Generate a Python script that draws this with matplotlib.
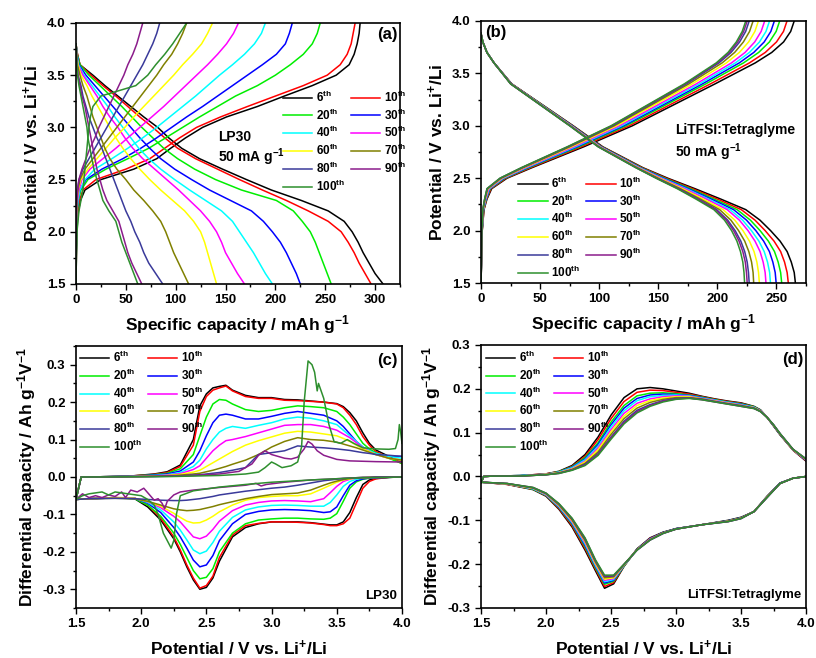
import matplotlib
matplotlib.use("Agg")
import matplotlib.pyplot as plt
from matplotlib.ticker import MultipleLocator, FormatStrFormatter

plt.rcParams['font.family'] = ['Liberation Sans', 'DejaVu Sans']
plt.rcParams['font.weight'] = 'bold'
plt.rcParams['axes.labelweight'] = 'bold'
plt.rcParams['mathtext.fontset'] = 'custom'
plt.rcParams['mathtext.rm'] = 'Liberation Sans:bold'
plt.rcParams['mathtext.bf'] = 'Liberation Sans:bold'
plt.rcParams['mathtext.it'] = 'Liberation Sans:bold'
plt.rcParams['mathtext.default'] = 'bf'
plt.rcParams['axes.unicode_minus'] = False

# ---------------- data ----------------
CYCLES = ['6', '10', '20', '30', '40', '50', '60', '70', '80', '90', '100']
COLORS = ['#000000', '#ff0000', '#00ee00', '#0000ff', '#00ffff', '#ff00ff',
          '#ffff00', '#808000', '#3a3a9a', '#8b1c8b', '#2e8f2e']

# Panel (a) LP30 - discharge: capacity (mAh/g) at potentials A_DIS_V
A_DIS_V = [3.8, 3.7, 3.6, 3.5, 3.4, 3.3, 3.2, 3.1, 3.0, 2.9, 2.8, 2.7, 2.6, 2.5,
           2.4, 2.3, 2.2, 2.1, 2.0, 1.9, 1.8, 1.7, 1.6, 1.5]
A_DIS_CAP = [
    [0, 1.5, 4, 17, 29, 42, 55, 68, 82, 93, 106, 124, 147, 171, 196, 226, 253, 269, 277, 283, 288, 294, 300, 308],
    [0, 1.5, 4, 15, 27, 40, 52, 64, 77, 89, 102, 120, 142, 164, 187, 211, 233, 253, 266, 273, 279, 284, 290, 296],
    [0, 1.2, 4, 13, 24, 35, 46, 56, 66, 77, 88, 102, 119, 140, 166, 201, 218, 227, 235, 240, 244, 248, 252, 256],
    [0, 1, 3, 10, 19, 28, 37, 46, 55, 64, 74, 85, 99, 116, 134, 155, 176, 188, 197, 205, 211, 216, 221, 225],
    [0, 1, 2.5, 8, 16, 24, 32, 39, 47, 55, 63, 73, 85, 99, 114, 130, 146, 157, 164, 171, 178, 184, 190, 197],
    [0, 0.8, 2, 7, 14, 21, 27, 34, 42, 49, 57, 67, 79, 91, 103, 114, 125, 134, 141, 146, 150, 156, 162, 169],
    [0, 0.7, 2, 5, 11, 16, 22, 28, 34, 40, 47, 55, 64, 74, 85, 97, 109, 118, 125, 129, 132, 135, 138, 141],
    [0, 0.6, 1.5, 4, 7, 11, 14, 17, 21, 25, 29, 34, 41, 50, 58, 68, 77, 85, 90, 94, 98, 103, 108, 113],
    [0, 0.5, 1, 2, 5, 7, 10, 13, 17, 21, 26, 30, 34, 38, 42, 46, 50, 55, 59, 64, 68, 73, 80, 87],
    [0, 0.5, 1, 2, 4, 6, 9, 11, 13, 15, 17, 19, 21, 24, 27, 31, 37, 43, 46, 49, 52, 56, 61, 66],
    [0, 0.5, 1, 1.5, 3, 5, 7, 9, 11, 12, 14, 16, 18, 21, 24, 27, 33, 40, 43, 46, 50, 54, 58, 62],
]
# Panel (a) LP30 - charge
A_CHG_V = [1.5, 1.8, 2.0, 2.1, 2.2, 2.3, 2.4, 2.5, 2.6, 2.7, 2.8, 2.9, 3.0, 3.1,
           3.2, 3.3, 3.4, 3.5, 3.6, 3.7, 3.8, 3.9, 4.0]
A_CHG_CAP = [
    [0, 0.5, 1, 1.5, 2.5, 4.5, 9, 25, 58, 81, 95, 110, 127, 151, 182, 209, 237, 261, 274, 279, 282, 284, 285],
    [0, 0.4, 0.8, 1.2, 2, 3.5, 7, 20, 50, 74, 89, 104, 121, 145, 172, 200, 228, 252, 265, 272, 276, 278, 280],
    [0, 0.3, 0.6, 0.9, 1.4, 2.5, 5, 12, 30, 52, 73, 90, 107, 124, 142, 160, 182, 200, 215, 228, 237, 242, 245],
    [0, 0.3, 0.5, 0.8, 1.1, 2, 4, 10, 26, 47, 65, 81, 96, 111, 127, 142, 157, 172, 187, 201, 210, 214, 217],
    [0, 0.3, 0.5, 0.7, 1, 2, 4, 9, 19, 36, 52, 67, 81, 94, 107, 120, 132, 144, 157, 169, 179, 186, 190],
    [0, 0.2, 0.4, 0.6, 0.9, 1.5, 3, 6, 14, 27, 40, 52, 64, 76, 88, 99, 110, 121, 132, 142, 151, 158, 163],
    [0, 0.2, 0.4, 0.5, 0.8, 1.2, 2, 5, 12, 21, 30, 39, 49, 58, 68, 78, 88, 98, 107, 117, 126, 132, 137],
    [0, 0.2, 0.3, 0.4, 0.6, 1, 2, 4, 9, 17, 25, 33, 41, 49, 57, 65, 73, 81, 88, 96, 102, 107, 111],
    [0, 0.2, 0.3, 0.4, 0.5, 0.8, 1.5, 3, 7, 13, 19, 25, 31, 37, 43, 49, 55, 61, 67, 72, 77, 81, 84],
    [0, 0.2, 0.3, 0.4, 0.5, 0.7, 1.5, 3, 6, 10, 14, 19, 23, 28, 33, 38, 43, 48, 52, 57, 61, 64, 67],
    [0, 0.5, 1, 2, 3, 5, 7, 8, 9, 10, 11, 12, 13, 14.5, 17, 25, 60, 72, 80, 89, 97, 104, 111],
]

# Panel (b) LiTFSI:Tetraglyme - discharge
B_DIS_V = [3.88, 3.8, 3.7, 3.6, 3.4, 3.2, 3.0, 2.8, 2.6, 2.5, 2.4, 2.3, 2.2, 2.1,
           2.0, 1.9, 1.8, 1.7, 1.6, 1.5]
B_DIS_CAP = [
    [0, 1.5, 5, 11, 26, 52, 78, 103, 137, 158, 181, 203, 224, 236, 245, 253, 259, 262.5, 265, 266],
    [0, 1.5, 5, 11, 25.9, 51.7, 77.6, 102.4, 136.2, 156.6, 178.9, 200.1, 220.2, 231.8, 240.4, 247.9, 253.5, 256.8, 259.0, 260.0],
    [0, 1.5, 5, 11, 25.7, 51.5, 77.2, 101.9, 135.4, 155.3, 177.0, 197.3, 216.7, 227.9, 236.1, 243.1, 248.3, 251.4, 253.5, 254.4],
    [0, 1.5, 5, 11, 25.6, 51.2, 76.9, 101.5, 134.7, 154.2, 175.3, 195.0, 213.7, 224.6, 232.5, 239.1, 244.0, 246.9, 248.9, 249.7],
    [0, 1.5, 5, 11, 25.5, 51.0, 76.5, 101.0, 134.1, 153.1, 173.7, 192.7, 210.8, 221.3, 228.8, 235.1, 239.6, 242.4, 244.2, 244.9],
    [0, 1.5, 5, 11, 25.4, 50.8, 76.3, 100.7, 133.5, 152.2, 172.3, 190.8, 208.3, 218.6, 225.9, 231.8, 236.1, 238.7, 240.4, 241.1],
    [0, 1.5, 5, 11, 25.3, 50.6, 75.9, 100.2, 132.7, 150.9, 170.4, 188.1, 204.8, 214.7, 221.6, 227.1, 231.0, 233.4, 234.8, 235.5],
    [0, 1.5, 5, 11, 25.2, 50.4, 75.5, 99.7, 132.1, 149.8, 168.7, 185.8, 201.9, 211.4, 217.9, 223.1, 226.6, 228.9, 230.2, 230.7],
    [0, 1.5, 5, 11, 25.1, 50.2, 75.3, 99.4, 131.5, 148.9, 167.4, 183.9, 199.4, 208.7, 215.0, 219.8, 223.1, 225.2, 226.3, 226.9],
    [0, 1.5, 5, 11, 25.1, 50.1, 75.2, 99.2, 131.3, 148.5, 166.8, 183.1, 198.4, 207.5, 213.7, 218.3, 221.5, 223.6, 224.6, 225.2],
    [0, 1.5, 5, 11, 25, 50, 75, 99, 131, 148, 166, 182, 197, 206, 212, 216.5, 219.5, 221.5, 222.5, 223],
]
# Panel (b) - charge
B_CHG_V = [1.5, 2.0, 2.2, 2.3, 2.4, 2.5, 2.6, 2.8, 3.0, 3.2, 3.4, 3.6, 3.7, 3.8, 3.9, 4.0]
B_CHG_CAP = [
    [0, 1, 2.5, 5, 9, 22, 43, 87, 128, 163, 198, 232, 246, 256, 262, 265],
    [0, 1.0, 2.4, 4.7, 8.4, 21.1, 41.7, 84.9, 125.3, 159.7, 194.1, 227.1, 240.5, 250.0, 255.9, 258.9],
    [0, 0.9, 2.2, 4.4, 7.8, 20.2, 40.3, 82.8, 122.6, 156.4, 190.2, 222.1, 234.9, 244.0, 249.7, 252.7],
    [0, 0.9, 2.1, 4.2, 7.4, 19.5, 39.3, 81.3, 120.6, 154.0, 187.3, 218.5, 230.8, 239.6, 245.2, 248.2],
    [0, 0.8, 2.0, 4.0, 7.0, 18.9, 38.4, 79.9, 118.8, 151.8, 184.7, 215.2, 227.1, 235.6, 241.1, 244.1],
    [0, 0.8, 1.9, 3.8, 6.6, 18.3, 37.5, 78.5, 117.0, 149.6, 182.1, 211.9, 223.4, 231.6, 237.0, 240.0],
    [0, 0.8, 1.8, 3.5, 6.0, 17.6, 36.3, 76.6, 114.7, 146.7, 178.8, 207.6, 218.6, 226.4, 231.7, 234.7],
    [0, 0.7, 1.7, 3.3, 5.6, 16.9, 35.4, 75.1, 112.7, 144.3, 175.9, 204.0, 214.6, 222.0, 227.2, 230.2],
    [0, 0.7, 1.6, 3.1, 5.3, 16.4, 34.6, 74.0, 111.3, 142.5, 173.8, 201.3, 211.6, 218.8, 223.9, 226.9],
    [0, 0.7, 1.5, 3.1, 5.1, 16.2, 34.3, 73.4, 110.5, 141.7, 172.8, 200.0, 210.1, 217.2, 222.2, 225.2],
    [0, 0.7, 1.5, 3.0, 5.0, 16.0, 34.0, 73.0, 110.0, 141.0, 172.0, 199.0, 209.0, 216.0, 221.0, 224.0],
]

# Panel (c) LP30 dQ/dV - charge branch (cycles 6..80 on a shared grid)
C_UP_V = [1.5, 1.54, 1.6, 1.9, 2.1, 2.2, 2.3, 2.4, 2.45, 2.5, 2.55, 2.6, 2.65, 2.7, 2.8,
          2.9, 3.0, 3.1, 3.2, 3.3, 3.4, 3.5, 3.55, 3.6, 3.65, 3.7, 3.75, 3.8, 3.9, 4.0]
C_UP = [
    [-0.06, 0.0, 0.0, 0.002, 0.008, 0.014, 0.032, 0.1, 0.19, 0.222, 0.238, 0.242, 0.245, 0.232, 0.218, 0.212, 0.212, 0.207, 0.206, 0.203, 0.2, 0.196, 0.188, 0.172, 0.15, 0.118, 0.09, 0.072, 0.055, 0.038],
    [-0.06, 0.0, 0.0, 0.002, 0.007, 0.012, 0.028, 0.085, 0.175, 0.215, 0.232, 0.238, 0.243, 0.23, 0.215, 0.21, 0.21, 0.205, 0.204, 0.202, 0.2, 0.195, 0.185, 0.165, 0.14, 0.108, 0.085, 0.068, 0.052, 0.036],
    [-0.06, 0.0, 0.0, 0.002, 0.006, 0.01, 0.022, 0.06, 0.11, 0.16, 0.195, 0.207, 0.205, 0.195, 0.18, 0.175, 0.178, 0.185, 0.19, 0.188, 0.185, 0.175, 0.16, 0.14, 0.115, 0.09, 0.075, 0.065, 0.05, 0.036],
    [-0.06, 0.0, 0.0, 0.002, 0.005, 0.008, 0.016, 0.04, 0.07, 0.11, 0.145, 0.165, 0.168, 0.165, 0.155, 0.155, 0.162, 0.17, 0.175, 0.17, 0.165, 0.15, 0.135, 0.115, 0.095, 0.08, 0.07, 0.062, 0.055, 0.055],
    [-0.06, 0.0, 0.0, 0.001, 0.004, 0.006, 0.012, 0.028, 0.045, 0.075, 0.1, 0.12, 0.13, 0.135, 0.13, 0.138, 0.145, 0.155, 0.16, 0.157, 0.15, 0.14, 0.125, 0.11, 0.095, 0.08, 0.07, 0.063, 0.055, 0.05],
    [-0.06, 0.0, 0.0, 0.001, 0.003, 0.005, 0.009, 0.02, 0.03, 0.05, 0.07, 0.085, 0.097, 0.1, 0.108, 0.118, 0.128, 0.138, 0.14, 0.14, 0.135, 0.125, 0.115, 0.105, 0.092, 0.078, 0.068, 0.06, 0.05, 0.045],
    [-0.06, 0.0, 0.0, 0.001, 0.002, 0.004, 0.007, 0.013, 0.018, 0.028, 0.038, 0.048, 0.058, 0.068, 0.085, 0.097, 0.107, 0.117, 0.122, 0.12, 0.115, 0.11, 0.103, 0.095, 0.085, 0.075, 0.068, 0.06, 0.05, 0.045],
    [-0.06, 0.0, 0.0, 0.001, 0.002, 0.003, 0.005, 0.008, 0.01, 0.014, 0.018, 0.023, 0.028, 0.034, 0.045, 0.06, 0.08, 0.095, 0.105, 0.1, 0.098, 0.093, 0.088, 0.083, 0.078, 0.072, 0.066, 0.06, 0.05, 0.045],
    [-0.06, 0.0, 0.0, 0.001, 0.001, 0.002, 0.003, 0.005, 0.006, 0.008, 0.01, 0.012, 0.015, 0.018, 0.025, 0.06, 0.065, 0.07, 0.083, 0.08, 0.078, 0.075, 0.073, 0.071, 0.068, 0.065, 0.063, 0.06, 0.058, 0.055],
]
C_UP_90_V = [1.5, 1.54, 1.6, 2.0, 2.4, 2.6, 2.75, 2.85, 2.9, 2.95, 3.0, 3.05, 3.1, 3.15, 3.2,
             3.25, 3.28, 3.31, 3.35, 3.4, 3.5, 3.6, 3.8, 4.0]
C_UP_90 = [-0.06, 0.0, 0.0, 0.001, 0.004, 0.008, 0.015, 0.035, 0.058, 0.07, 0.06, 0.055, 0.05,
           0.048, 0.053, 0.075, 0.095, 0.088, 0.07, 0.058, 0.047, 0.043, 0.041, 0.04]
C_UP_100_V = [1.5, 1.54, 1.6, 2.2, 2.6, 2.8, 2.9, 2.95, 3.0, 3.03, 3.08, 3.15, 3.2, 3.23, 3.25,
              3.28, 3.31, 3.33, 3.35, 3.36, 3.37, 3.4, 3.44, 3.48, 3.53, 3.58, 3.63, 3.7, 3.8,
              3.9, 3.95, 3.97, 3.98, 3.99, 4.0]
C_UP_100 = [-0.06, 0.0, 0.0, 0.001, 0.004, 0.008, 0.013, 0.025, 0.04, 0.035, 0.025, 0.03, 0.04,
            0.08, 0.2, 0.31, 0.3, 0.28, 0.23, 0.25, 0.24, 0.21, 0.14, 0.094, 0.09, 0.1, 0.09,
            0.078, 0.075, 0.074, 0.076, 0.1, 0.14, 0.12, 0.09]
# Panel (c) - discharge branch
C_DN_V = [1.5, 1.6, 1.8, 1.95, 2.05, 2.15, 2.25, 2.3, 2.35, 2.4, 2.45, 2.5, 2.55, 2.6, 2.7, 2.8,
          2.9, 3.0, 3.1, 3.2, 3.3, 3.4, 3.45, 3.5, 3.55, 3.6, 3.65, 3.7, 3.75, 3.8, 3.9, 4.0]
C_DN = [
    [-0.06, -0.058, -0.055, -0.058, -0.08, -0.115, -0.165, -0.2, -0.24, -0.275, -0.3, -0.295, -0.27, -0.225, -0.16, -0.135, -0.125, -0.12, -0.12, -0.12, -0.122, -0.126, -0.128, -0.128, -0.12, -0.095, -0.055, -0.02, -0.008, -0.004, -0.001, 0],
    [-0.06, -0.058, -0.055, -0.056, -0.075, -0.11, -0.16, -0.195, -0.235, -0.27, -0.297, -0.29, -0.265, -0.215, -0.155, -0.13, -0.124, -0.12, -0.12, -0.121, -0.123, -0.127, -0.13, -0.13, -0.125, -0.11, -0.07, -0.03, -0.012, -0.005, -0.001, 0],
    [-0.06, -0.058, -0.056, -0.058, -0.075, -0.105, -0.15, -0.18, -0.215, -0.25, -0.272, -0.268, -0.245, -0.2, -0.15, -0.125, -0.115, -0.112, -0.11, -0.11, -0.112, -0.113, -0.11, -0.098, -0.065, -0.03, -0.013, -0.006, -0.003, -0.002, -0.001, 0],
    [-0.06, -0.058, -0.056, -0.057, -0.07, -0.095, -0.135, -0.16, -0.19, -0.222, -0.24, -0.235, -0.21, -0.17, -0.125, -0.1, -0.092, -0.088, -0.087, -0.088, -0.09, -0.095, -0.093, -0.08, -0.05, -0.022, -0.01, -0.005, -0.003, -0.002, -0.001, 0],
    [-0.06, -0.058, -0.056, -0.057, -0.068, -0.088, -0.12, -0.142, -0.168, -0.195, -0.205, -0.198, -0.175, -0.145, -0.108, -0.088, -0.08, -0.076, -0.075, -0.076, -0.078, -0.078, -0.068, -0.048, -0.025, -0.012, -0.006, -0.003, -0.002, -0.001, 0, 0],
    [-0.06, -0.058, -0.056, -0.057, -0.066, -0.082, -0.105, -0.12, -0.14, -0.16, -0.165, -0.158, -0.14, -0.118, -0.09, -0.075, -0.068, -0.064, -0.063, -0.064, -0.066, -0.058, -0.042, -0.025, -0.012, -0.006, -0.003, -0.002, -0.001, -0.001, 0, 0],
    [-0.06, -0.058, -0.056, -0.057, -0.065, -0.078, -0.097, -0.108, -0.118, -0.123, -0.122, -0.115, -0.105, -0.093, -0.075, -0.062, -0.055, -0.052, -0.05, -0.05, -0.045, -0.03, -0.022, -0.014, -0.008, -0.005, -0.003, -0.002, -0.001, 0, 0, 0],
    [-0.06, -0.058, -0.057, -0.058, -0.065, -0.075, -0.085, -0.088, -0.09, -0.089, -0.087, -0.083, -0.079, -0.074, -0.066, -0.058, -0.052, -0.047, -0.045, -0.043, -0.035, -0.022, -0.016, -0.011, -0.007, -0.004, -0.002, -0.001, -0.001, 0, 0, 0],
    [-0.06, -0.058, -0.057, -0.058, -0.06, -0.062, -0.063, -0.063, -0.062, -0.06, -0.058, -0.055, -0.052, -0.048, -0.043, -0.038, -0.034, -0.03, -0.027, -0.022, -0.016, -0.01, -0.008, -0.006, -0.004, -0.003, -0.002, -0.001, -0.001, 0, 0, 0],
]
C_DN_90_V = [1.5, 1.55, 1.6, 1.65, 1.7, 1.75, 1.8, 1.85, 1.88, 1.92, 1.97, 2.02, 2.07, 2.1, 2.13,
             2.16, 2.18, 2.2, 2.25, 2.3, 2.4, 2.6, 2.8, 2.88, 2.92, 2.96, 3.1, 3.3, 3.6, 4.0]
C_DN_90 = [-0.06, -0.045, -0.055, -0.05, -0.055, -0.048, -0.052, -0.04, -0.055, -0.035, -0.04,
           -0.03, -0.05, -0.062, -0.058, -0.07, -0.085, -0.065, -0.048, -0.04, -0.035, -0.028,
           -0.022, -0.017, -0.024, -0.02, -0.014, -0.008, -0.003, 0]
C_DN_100_V = [1.5, 1.55, 1.6, 1.7, 1.75, 1.8, 1.9, 2.0, 2.05, 2.1, 2.13, 2.17, 2.2, 2.23, 2.25,
              2.27, 2.3, 2.4, 2.6, 2.8, 3.0, 3.3, 3.6, 4.0]
C_DN_100 = [-0.06, -0.05, -0.045, -0.04, -0.048, -0.04, -0.045, -0.05, -0.06, -0.075, -0.1, -0.15,
            -0.17, -0.19, -0.17, -0.1, -0.05, -0.037, -0.027, -0.02, -0.014, -0.008, -0.003, 0]

# Panel (d) LiTFSI:Tetraglyme dQ/dV - charge branch
D_UP_V = [1.5, 1.52, 1.6, 1.8, 2.0, 2.1, 2.2, 2.3, 2.4, 2.5, 2.6, 2.7, 2.8, 2.9, 3.0, 3.1,
          3.2, 3.3, 3.4, 3.5, 3.6, 3.65, 3.7, 3.75, 3.8, 3.9, 4.0]
D_UP = [
    [-0.015, 0, 0.001, 0.002, 0.006, 0.012, 0.025, 0.05, 0.09, 0.14, 0.18, 0.2, 0.203, 0.2, 0.195, 0.19, 0.183, 0.177, 0.172, 0.168, 0.16, 0.152, 0.135, 0.115, 0.095, 0.06, 0.035],
    [-0.015, 0, 0.001, 0.002, 0.006, 0.011, 0.023, 0.046, 0.084, 0.132, 0.171, 0.192, 0.197, 0.196, 0.192, 0.188, 0.182, 0.176, 0.171, 0.167, 0.159, 0.151, 0.135, 0.116, 0.096, 0.06, 0.036],
    [-0.015, 0, 0.001, 0.002, 0.005, 0.011, 0.022, 0.043, 0.077, 0.124, 0.162, 0.184, 0.19, 0.191, 0.189, 0.186, 0.181, 0.175, 0.17, 0.166, 0.159, 0.151, 0.135, 0.116, 0.096, 0.061, 0.037],
    [-0.015, 0, 0.001, 0.002, 0.005, 0.01, 0.021, 0.04, 0.073, 0.118, 0.156, 0.178, 0.186, 0.188, 0.187, 0.185, 0.18, 0.174, 0.169, 0.165, 0.158, 0.15, 0.135, 0.116, 0.096, 0.061, 0.037],
    [-0.015, 0, 0.001, 0.002, 0.005, 0.01, 0.02, 0.038, 0.069, 0.113, 0.15, 0.173, 0.182, 0.185, 0.186, 0.184, 0.179, 0.174, 0.169, 0.164, 0.158, 0.15, 0.135, 0.117, 0.097, 0.061, 0.038],
    [-0.015, 0, 0.001, 0.001, 0.005, 0.009, 0.018, 0.035, 0.065, 0.107, 0.144, 0.167, 0.177, 0.182, 0.184, 0.183, 0.178, 0.173, 0.168, 0.163, 0.157, 0.15, 0.135, 0.117, 0.097, 0.061, 0.038],
    [-0.015, 0, 0.001, 0.001, 0.005, 0.009, 0.017, 0.033, 0.061, 0.102, 0.138, 0.162, 0.173, 0.179, 0.182, 0.182, 0.177, 0.172, 0.167, 0.162, 0.157, 0.149, 0.135, 0.117, 0.097, 0.061, 0.039],
    [-0.015, 0, 0.001, 0.001, 0.004, 0.008, 0.016, 0.03, 0.056, 0.096, 0.132, 0.156, 0.169, 0.176, 0.18, 0.18, 0.177, 0.171, 0.166, 0.162, 0.156, 0.149, 0.135, 0.117, 0.097, 0.062, 0.039],
    [-0.015, 0, 0.001, 0.001, 0.004, 0.008, 0.015, 0.028, 0.052, 0.09, 0.126, 0.151, 0.164, 0.173, 0.178, 0.179, 0.176, 0.171, 0.166, 0.161, 0.156, 0.148, 0.135, 0.118, 0.098, 0.062, 0.04],
    [-0.015, 0, 0.001, 0.001, 0.004, 0.007, 0.015, 0.026, 0.05, 0.088, 0.123, 0.148, 0.162, 0.172, 0.177, 0.179, 0.175, 0.17, 0.165, 0.16, 0.155, 0.148, 0.135, 0.118, 0.098, 0.062, 0.04],
    [-0.015, 0, 0.001, 0.001, 0.004, 0.007, 0.014, 0.025, 0.048, 0.085, 0.12, 0.145, 0.16, 0.17, 0.176, 0.178, 0.175, 0.17, 0.165, 0.16, 0.155, 0.148, 0.135, 0.118, 0.098, 0.062, 0.04],
]
# Panel (d) - discharge branch
D_DN_V = [1.5, 1.7, 1.9, 2.0, 2.1, 2.2, 2.3, 2.38, 2.45, 2.52, 2.6, 2.7, 2.8, 2.9, 3.0, 3.2,
          3.4, 3.5, 3.6, 3.7, 3.8, 3.9, 4.0]
D_DN = [
    [-0.013, -0.018, -0.03, -0.045, -0.075, -0.115, -0.168, -0.215, -0.255, -0.245, -0.205, -0.165, -0.14, -0.127, -0.119, -0.11, -0.1, -0.093, -0.08, -0.045, -0.015, -0.004, 0],
    [-0.013, -0.018, -0.029, -0.044, -0.073, -0.112, -0.164, -0.211, -0.251, -0.242, -0.204, -0.166, -0.141, -0.128, -0.119, -0.11, -0.101, -0.094, -0.08, -0.046, -0.015, -0.004, 0],
    [-0.013, -0.017, -0.029, -0.043, -0.071, -0.109, -0.16, -0.208, -0.246, -0.239, -0.204, -0.166, -0.142, -0.128, -0.119, -0.11, -0.101, -0.094, -0.08, -0.046, -0.015, -0.004, 0],
    [-0.013, -0.017, -0.028, -0.042, -0.07, -0.107, -0.157, -0.205, -0.243, -0.237, -0.203, -0.166, -0.142, -0.128, -0.119, -0.11, -0.101, -0.094, -0.08, -0.046, -0.015, -0.004, 0],
    [-0.013, -0.017, -0.028, -0.042, -0.069, -0.105, -0.154, -0.203, -0.24, -0.235, -0.203, -0.167, -0.143, -0.129, -0.12, -0.11, -0.102, -0.095, -0.08, -0.047, -0.016, -0.004, 0],
    [-0.013, -0.017, -0.027, -0.041, -0.067, -0.103, -0.151, -0.2, -0.237, -0.233, -0.202, -0.167, -0.143, -0.129, -0.12, -0.11, -0.102, -0.095, -0.08, -0.047, -0.016, -0.004, 0],
    [-0.013, -0.017, -0.027, -0.04, -0.066, -0.101, -0.148, -0.198, -0.234, -0.231, -0.202, -0.167, -0.144, -0.129, -0.12, -0.11, -0.102, -0.095, -0.08, -0.047, -0.016, -0.004, 0],
    [-0.013, -0.016, -0.026, -0.039, -0.065, -0.099, -0.146, -0.195, -0.231, -0.229, -0.201, -0.167, -0.144, -0.129, -0.12, -0.11, -0.102, -0.095, -0.08, -0.047, -0.016, -0.004, 0],
    [-0.013, -0.016, -0.026, -0.039, -0.063, -0.097, -0.143, -0.193, -0.228, -0.227, -0.201, -0.168, -0.145, -0.13, -0.12, -0.11, -0.103, -0.096, -0.08, -0.048, -0.016, -0.004, 0],
    [-0.013, -0.016, -0.025, -0.038, -0.063, -0.096, -0.141, -0.191, -0.227, -0.226, -0.2, -0.168, -0.145, -0.13, -0.12, -0.11, -0.103, -0.096, -0.08, -0.048, -0.016, -0.004, 0],
    [-0.013, -0.016, -0.025, -0.038, -0.062, -0.095, -0.14, -0.19, -0.225, -0.225, -0.2, -0.168, -0.145, -0.13, -0.12, -0.11, -0.103, -0.096, -0.08, -0.048, -0.016, -0.004, 0],
]

# ---------------- figure ----------------
LW = 1.1
TICK_FS = 9.5
LABEL_FS = 12.5
LEG_FS = 8.5
LABELS = [c + r'$^{th}$' for c in CYCLES]

fig = plt.figure(figsize=(8.16, 6.58), dpi=100)
axA = fig.add_axes([0.0931, 0.5684, 0.3971, 0.3967])
axB = fig.add_axes([0.5895, 0.5699, 0.3983, 0.3982])
axC = fig.add_axes([0.0931, 0.0760, 0.3995, 0.3982])
axD = fig.add_axes([0.5895, 0.0760, 0.3983, 0.3997])


def style(ax, xmaj, xmin, ymaj, ymin, yfmt):
    ax.xaxis.set_major_locator(MultipleLocator(xmaj))
    ax.xaxis.set_minor_locator(MultipleLocator(xmin))
    ax.yaxis.set_major_locator(MultipleLocator(ymaj))
    ax.yaxis.set_minor_locator(MultipleLocator(ymin))
    ax.yaxis.set_major_formatter(FormatStrFormatter(yfmt))
    ax.tick_params(which='both', direction='out', top=False, right=False,
                   labelsize=TICK_FS, width=1.0)
    ax.tick_params(which='major', length=4)
    ax.tick_params(which='minor', length=2.2)
    for s in ax.spines.values():
        s.set_linewidth(1.2)
    for lab in ax.get_xticklabels() + ax.get_yticklabels():
        lab.set_fontweight('bold')


def legend(ax, handles, x, y):
    order = [0, 2, 4, 6, 8, 10, 1, 3, 5, 7, 9]
    ax.legend([handles[i] for i in order], [LABELS[i] for i in order], ncol=2,
              loc='upper left', bbox_to_anchor=(x, y), frameon=False,
              handlelength=2.5, handletextpad=0.3,
              columnspacing=0.5, labelspacing=0.22, borderpad=0, borderaxespad=0,
              prop={'weight': 'bold', 'size': LEG_FS})


# (a)
hA = []
for i in range(11):
    ln, = axA.plot(A_CHG_CAP[i], A_CHG_V, color=COLORS[i], lw=LW)
    axA.plot(A_DIS_CAP[i], A_DIS_V, color=COLORS[i], lw=LW)
    hA.append(ln)
axA.set_xlim(0, 325)
axA.set_ylim(1.5, 4.0)
style(axA, 50, 25, 0.5, 0.25, '%.1f')
axA.set_xlabel('Specific capacity / mAh g$^{-1}$', fontsize=LABEL_FS, labelpad=5)
axA.set_ylabel('Potential / V vs. Li$^{+}$/Li', fontsize=LABEL_FS, labelpad=4)
legend(axA, hA, 0.638, 0.745)
axA.text(0.994, 0.985, '(a)', transform=axA.transAxes, ha='right', va='top', fontsize=12, fontweight='bold')
axA.text(0.438, 0.59, 'LP30', transform=axA.transAxes, ha='left', va='top', fontsize=10, fontweight='bold')
axA.text(0.438, 0.528, '50 mA g$^{-1}$', transform=axA.transAxes, ha='left', va='top', fontsize=10, fontweight='bold')

# (b)
hB = []
for i in range(11):
    ln, = axB.plot(B_CHG_CAP[i], B_CHG_V, color=COLORS[i], lw=LW)
    axB.plot(B_DIS_CAP[i], B_DIS_V, color=COLORS[i], lw=LW)
    hB.append(ln)
axB.set_xlim(0, 275)
axB.set_ylim(1.5, 4.0)
style(axB, 50, 25, 0.5, 0.25, '%.1f')
axB.set_xlabel('Specific capacity / mAh g$^{-1}$', fontsize=LABEL_FS, labelpad=5)
axB.set_ylabel('Potential / V vs. Li$^{+}$/Li', fontsize=LABEL_FS, labelpad=4)
legend(axB, hB, 0.114, 0.41)
axB.text(0.012, 0.985, '(b)', transform=axB.transAxes, ha='left', va='top', fontsize=12, fontweight='bold')
axB.text(0.597, 0.61, 'LiTFSI:Tetraglyme', transform=axB.transAxes, ha='left', va='top', fontsize=10, fontweight='bold')
axB.text(0.597, 0.54, '50 mA g$^{-1}$', transform=axB.transAxes, ha='left', va='top', fontsize=10, fontweight='bold')

# (c)
hC = []
for i in range(9):
    ln, = axC.plot(C_UP_V, C_UP[i], color=COLORS[i], lw=LW)
    axC.plot(C_DN_V, C_DN[i], color=COLORS[i], lw=LW)
    hC.append(ln)
ln, = axC.plot(C_UP_90_V, C_UP_90, color=COLORS[9], lw=LW)
axC.plot(C_DN_90_V, C_DN_90, color=COLORS[9], lw=LW)
hC.append(ln)
ln, = axC.plot(C_UP_100_V, C_UP_100, color=COLORS[10], lw=LW)
axC.plot(C_DN_100_V, C_DN_100, color=COLORS[10], lw=LW)
hC.append(ln)
axC.set_xlim(1.5, 4.0)
axC.set_ylim(-0.35, 0.35)
style(axC, 0.5, 0.25, 0.1, 0.05, '%.1f')
axC.set_xlabel('Potential / V vs. Li$^{+}$/Li', fontsize=LABEL_FS, labelpad=6)
axC.set_ylabel('Differential capacity / Ah g$^{-1}$V$^{-1}$', fontsize=LABEL_FS, labelpad=3)
legend(axC, hC, 0.012, 0.985)
axC.text(0.988, 0.975, '(c)', transform=axC.transAxes, ha='right', va='top', fontsize=12, fontweight='bold')
axC.text(0.985, 0.022, 'LP30', transform=axC.transAxes, ha='right', va='bottom', fontsize=9.5, fontweight='bold')

# (d)
hD = []
for i in range(11):
    ln, = axD.plot(D_UP_V, D_UP[i], color=COLORS[i], lw=LW)
    axD.plot(D_DN_V, D_DN[i], color=COLORS[i], lw=LW)
    hD.append(ln)
axD.set_xlim(1.5, 4.0)
axD.set_ylim(-0.3, 0.3)
style(axD, 0.5, 0.25, 0.1, 0.05, '%.1f')
axD.set_xlabel('Potential / V vs. Li$^{+}$/Li', fontsize=LABEL_FS, labelpad=6)
axD.set_ylabel('Differential capacity / Ah g$^{-1}$V$^{-1}$', fontsize=LABEL_FS, labelpad=3)
legend(axD, hD, 0.015, 0.982)
axD.text(0.991, 0.972, '(d)', transform=axD.transAxes, ha='right', va='top', fontsize=12, fontweight='bold')
axD.text(0.985, 0.025, 'LiTFSI:Tetraglyme', transform=axD.transAxes, ha='right', va='bottom', fontsize=9.5, fontweight='bold')

fig.savefig('out.png', dpi=100)
